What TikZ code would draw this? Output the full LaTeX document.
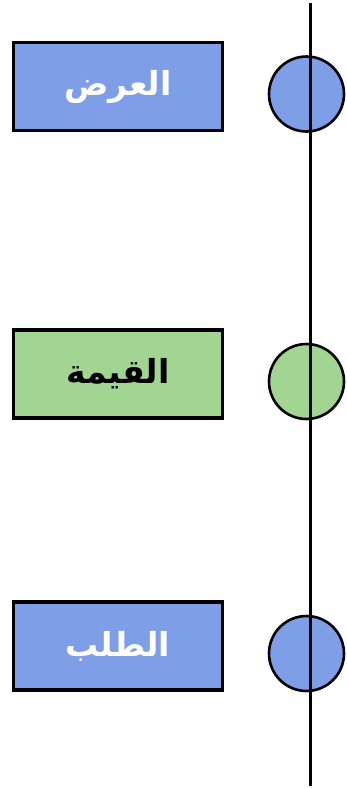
\documentclass[tikz,border=0pt]{standalone}
\usepackage{fontspec}
\TeXXeTstate=1
\newfontfamily\arabicfont[Script=Arabic]{DejaVu Sans}
\definecolor{boxblue}{HTML}{7F9EE8}
\definecolor{boxgreen}{HTML}{A2D492}
\begin{document}
\begin{tikzpicture}[x=1pt,y=1pt,
  labelbox/.style={draw=black,line width=3.2pt,minimum width=209pt,minimum height=88pt,inner sep=0pt,font=\arabicfont\bfseries\fontsize{33}{38}\selectfont},
  dot/.style={circle,draw=black,line width=2.6pt,minimum size=75pt,inner sep=0pt}]
\useasboundingbox (0,0) rectangle (347,-788);
\node[labelbox,fill=boxblue,text=white] (b1) at (118,-86.5) {\beginR العرض\endR};
\node[labelbox,fill=boxgreen,text=black] (b2) at (118,-374) {\beginR القيمة\endR};
\node[labelbox,fill=boxblue,text=white] (b3) at (118,-646) {\beginR الطلب\endR};
\node[dot,fill=boxblue] (c1) at (306.5,-94) {};
\node[dot,fill=boxgreen] (c2) at (306.5,-381.5) {};
\node[dot,fill=boxblue] (c3) at (306.5,-653.5) {};
\coordinate (top) at (310,-3);
\coordinate (bot) at (310,-786);
\draw[line width=3pt] (top) -- (bot);
\end{tikzpicture}
\end{document}
